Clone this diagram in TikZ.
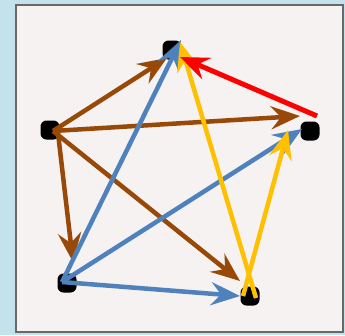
\documentclass[tikz,border=0pt]{standalone}
\usetikzlibrary{arrows.meta}
\definecolor{brownc}{HTML}{984807}
\definecolor{bluec}{HTML}{4F81BD}
\definecolor{yellowc}{HTML}{FFC000}
\definecolor{redc}{HTML}{FF0000}
\definecolor{skyc}{HTML}{C3E2EC}
\definecolor{paper}{HTML}{F5F2F1}
\definecolor{framec}{HTML}{686868}
\begin{document}
\begin{tikzpicture}[x=1pt,y=-1pt,
  dot/.style={fill=black, rounded corners=6pt, minimum size=19pt, inner sep=0pt},
  edge/.style={line width=4.5pt, -{Stealth[length=29pt,width=23pt,inset=10pt]}},
  brownedge/.style={edge, draw=brownc},
  blueedge/.style={edge, draw=bluec},
  yellowedge/.style={edge, draw=yellowc},
  rededge/.style={edge, draw=redc, line width=5pt}]
\useasboundingbox (0,0) rectangle (345,335);
\fill[skyc] (0,0) rectangle (345,335);
\draw[framec, line width=2pt, fill=paper] (16,5) rectangle (343,332);
% vertices
\node[dot] (A) at (172,50) {};
\node[dot] (B) at (50,130) {};
\node[dot] (C) at (310,131) {};
\node[dot] (D) at (67,283) {};
\node[dot] (E) at (250,296) {};
% connector ends
\coordinate (Bs) at (53,131);
\coordinate (Bs2) at (58,133);
\coordinate (BAt) at (167,58);
\coordinate (BCt) at (300,116);
\coordinate (BDt) at (73,262);
\coordinate (BEt) at (240,281);
\coordinate (Ds) at (62,282);
\coordinate (DAt) at (181,40);
\coordinate (DCt) at (302,129);
\coordinate (DEt) at (240,296);
\coordinate (EsA) at (256,298);
\coordinate (EsC) at (243,296);
\coordinate (EAt) at (180,42);
\coordinate (ECt) at (288,130);
\coordinate (Cs) at (317,116);
\coordinate (CAt) at (180,57);
% brown
\draw[brownedge] (Bs) -- (BAt);
\draw[brownedge] (Bs) -- (BCt);
\draw[brownedge] (Bs2) -- (BDt);
\draw[brownedge] (Bs) -- (BEt);
% blue
\draw[blueedge] (Ds) -- (DAt);
\draw[blueedge] (Ds) -- (DCt);
\draw[blueedge] (Ds) -- (DEt);
% yellow
\draw[yellowedge] (EsA) -- (EAt);
\draw[yellowedge] (EsC) -- (ECt);
% red
\draw[rededge] (Cs) -- (CAt);
\end{tikzpicture}
\end{document}
